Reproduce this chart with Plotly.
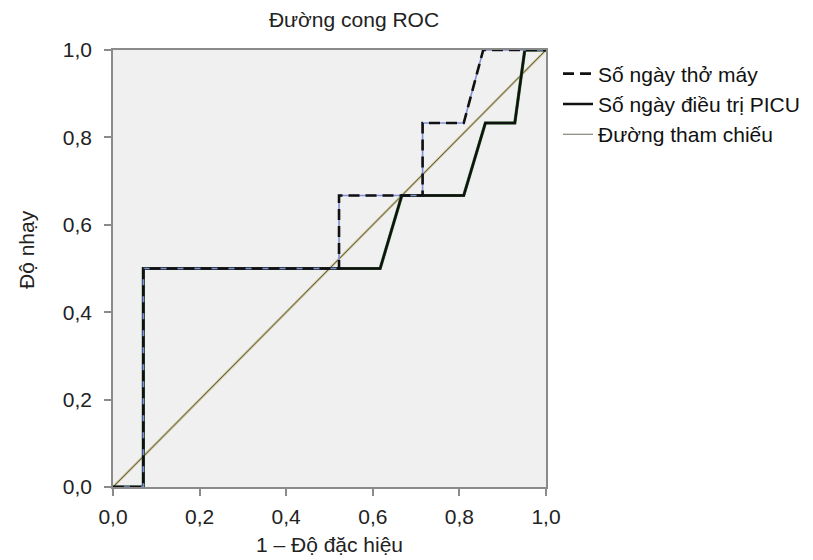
import plotly.graph_objects as go

# Data
x_tho_may = [0, 0.07, 0.07, 0.522, 0.522, 0.715, 0.715, 0.81, 0.855, 1.0]
y_tho_may = [0, 0, 0.5, 0.5, 0.667, 0.667, 0.833, 0.833, 1.0, 1.0]

x_picu = [0, 0.07, 0.07, 0.617, 0.667, 0.81, 0.86, 0.928, 0.951, 1.0]
y_picu = [0, 0, 0.5, 0.5, 0.667, 0.667, 0.833, 0.833, 1.0, 1.0]

x_ref = [0, 1]
y_ref = [0, 1]

tick_vals = [0, 0.2, 0.4, 0.6, 0.8, 1.0]
tick_text = ["0,0", "0,2", "0,4", "0,6", "0,8", "1,0"]

FONT = "Liberation Sans, Arial, sans-serif"
FS = 21
TXT = "#222222"

fig = go.Figure()

# reference diagonal
fig.add_trace(go.Scatter(x=x_ref, y=y_ref, mode="lines",
                         line=dict(color="#c4bc8e", width=2.4),
                         showlegend=False, hoverinfo="skip"))
fig.add_trace(go.Scatter(x=x_ref, y=y_ref, mode="lines",
                         name="Đường tham chiếu",
                         line=dict(color="#4a4630", width=0.8)))

# PICU curve: green underlay + black
fig.add_trace(go.Scatter(x=x_picu, y=y_picu, mode="lines",
                         line=dict(color="#3a7a3a", width=3.2),
                         showlegend=False, hoverinfo="skip"))
fig.add_trace(go.Scatter(x=x_picu, y=y_picu, mode="lines",
                         name="Số ngày điều trị PICU",
                         line=dict(color="#111111", width=2.4)))

# Ventilation curve: light blue underlay + black dashes
fig.add_trace(go.Scatter(x=x_tho_may, y=y_tho_may, mode="lines",
                         line=dict(color="#7f90d8", width=1.6),
                         showlegend=False, hoverinfo="skip"))
fig.add_trace(go.Scatter(x=x_tho_may, y=y_tho_may, mode="lines",
                         name="Số ngày thở máy",
                         line=dict(color="#111111", width=2.6, dash="11px,6px")))

axis_common = dict(
    range=[0, 1], tickvals=tick_vals, ticktext=tick_text,
    showgrid=False, zeroline=False,
    showline=True, linecolor="#8a8a8a", linewidth=1.5, mirror=True,
    ticks="outside", ticklen=7, tickcolor="#8a8a8a", tickwidth=1.5,
    tickfont=dict(family=FONT, size=FS, color=TXT),
)

fig.update_layout(
    width=813, height=560,
    margin=dict(l=113, r=267, t=50, b=73, autoexpand=False),
    paper_bgcolor="white", plot_bgcolor="#f0f0f0",
    title=dict(text="Đường cong ROC", x=354 / 813, xanchor="center",
               y=1 - 20 / 560, yanchor="middle",
               font=dict(family=FONT, size=FS, color=TXT)),
    xaxis=dict(axis_common, ticklabelstandoff=3,
               title=dict(text="1 – Độ đặc hiệu", standoff=10,
                          font=dict(family=FONT, size=FS, color=TXT))),
    yaxis=dict(axis_common, ticklabelstandoff=8),
    legend=dict(x=(558 - 113) / 433, y=0.992, xanchor="left", yanchor="top",
                traceorder="reversed", itemwidth=30, tracegroupgap=0,
                bgcolor="rgba(0,0,0,0)",
                font=dict(family=FONT, size=FS, color="#111111")),
    annotations=[dict(text="Độ nhạy", textangle=-90, showarrow=False,
                      xref="paper", yref="paper",
                      x=-(113 - 26) / 433, y=(487 - 250) / 437,
                      xanchor="center", yanchor="middle",
                      font=dict(family=FONT, size=FS, color=TXT))],
)

fig.write_html("out.html", config={"displayModeBar": False},
               post_script="document.body.style.margin='0px';")
